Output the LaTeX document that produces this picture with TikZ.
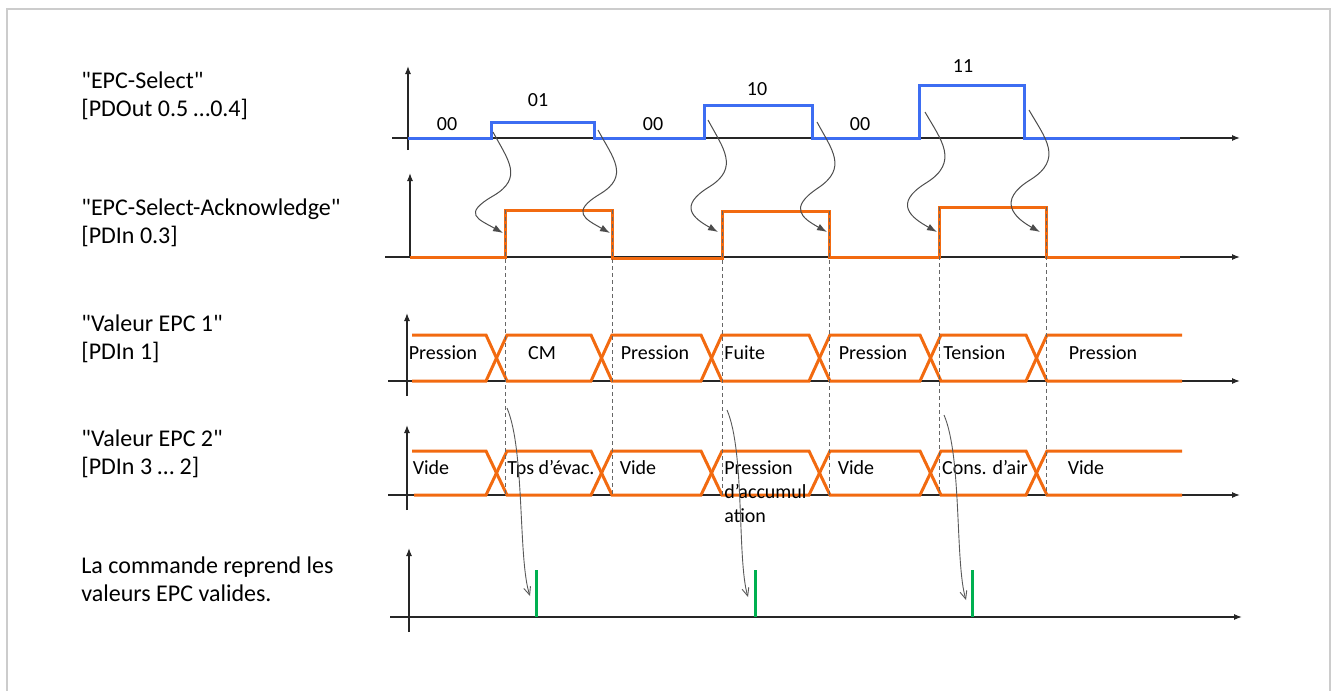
\documentclass[tikz,border=0pt]{standalone}
\usepackage{fontspec}
\setmainfont{Carlito}[Ligatures=TeXOff]
\usepackage{tikz}
\usetikzlibrary{arrows.meta}
\definecolor{sel}{HTML}{3D6DF2}
\definecolor{ack}{HTML}{F26A10}
\definecolor{ok}{HTML}{00B050}
\definecolor{rim}{HTML}{CCCCCC}

\begin{document}
\begin{tikzpicture}[x=0.5pt,y=-0.5pt,
		axe/.style={black!85,line width=0.6pt,-{Latex[length=4pt,width=3pt]}},
		sig/.style={line width=1.5pt},
		wave/.style={black!70,line width=0.5pt,-{Latex[length=5pt,width=3.5pt]}},
		pick/.style={black!65,line width=0.45pt,-{Straight Barb[length=4pt,width=3.5pt]}},
		edgeline/.style={black!60,line width=0.45pt,dash pattern=on 2pt off 1.5pt},
		titre/.style={font=\fontsize{12}{14.4}\selectfont,align=left,anchor=north west,inner sep=0pt},
		val/.style={font=\fontsize{10}{12.2}\selectfont,anchor=base,inner sep=0pt}]
		\useasboundingbox (0,0) rectangle (1334,691);
		%cadre
		\draw[rim,line width=1pt] (7,691) -- (7,9) -- (1330,9) -- (1330,691);
		
		%titres des signaux
		\node (T1) [titre] at (81,71) {"EPC-Select"\\{[PDOut 0.5 …0.4]}};
		\node (T2) [titre] at (81,198) {"EPC-Select-Acknowledge"\\{[PDIn 0.3]}};
		\node (T3) [titre] at (81,314) {"Valeur EPC 1"\\{[PDIn 1]}};
		\node (T4) [titre] at (81,429) {"Valeur EPC 2"\\{[PDIn 3 … 2]}};
		\node (T5) [titre] at (81,556) {La commande reprend les\\valeurs EPC valides.};
		
		%axes
		\draw[axe] (392,138) -- (1240,138);
		\draw[axe] (408,150) -- (408,66);
		\draw[axe] (385,257) -- (1240,257);
		\draw[axe] (410,257) -- (410,173);
		\draw[axe] (388,381) -- (1240,381);
		\draw[axe] (407,396) -- (407,313);
		\draw[axe] (388,495) -- (1240,495);
		\draw[axe] (407,510) -- (407,425);
		\draw[axe] (390,617) -- (1242,617);
		\draw[axe] (409,632) -- (409,548);
		
		%EPC-Select
		\draw[sel,sig] (408,138) -- (491,138) -- (491,122) -- (594,122) -- (594,138) -- (704,138) -- (704,105) -- (812,105) -- (812,138) -- (919,138) -- (919,85) -- (1024,85) -- (1024,138) -- (1180,138);
		\node (c1) [val] at (447,130) {00};
		\node (c2) [val] at (538,106) {01};
		\node (c3) [val] at (653,130) {00};
		\node (c4) [val] at (757,95) {10};
		\node (c5) [val] at (860,130) {00};
		\node (c6) [val] at (963,72) {11};
		
		%Acknowledge
		\draw[ack,sig] (410,257) -- (505,257) -- (505,210) -- (612,210) -- (612,258) -- (722,258) -- (722,211) -- (829,211) -- (829,257) -- (939,257) -- (939,207) -- (1046,207) -- (1046,257) -- (1180,257);
		
		%Valeur EPC 1
		\draw[ack,sig] (412,335) -- (486,335) -- (507,381) -- (591,381) -- (612,335) -- (701,335) -- (722,381) -- (809,381) -- (830,335) -- (920,335) -- (941,381) -- (1026,381) -- (1047,335) -- (1182,335);
		\draw[ack,sig] (412,381) -- (486,381) -- (507,335) -- (591,335) -- (612,381) -- (701,381) -- (722,335) -- (809,335) -- (830,381) -- (920,381) -- (941,335) -- (1026,335) -- (1047,381) -- (1182,381);
		\node (p1) [val] at (443,359) {Pression};
		\node (p2) [val] at (542,359) {CM};
		\node (p3) [val] at (655,359) {Pression};
		\node (p4) [val,anchor=base west] at (724,359) {Fuite};
		\node (p5) [val] at (873,359) {Pression};
		\node (p6) [val,anchor=base west] at (943,359) {Tension};
		\node (p7) [val] at (1103,359) {Pression};
		
		%Valeur EPC 2
		\draw[ack,sig] (412,451) -- (486,451) -- (507,495) -- (591,495) -- (612,451) -- (701,451) -- (722,495) -- (809,495) -- (830,451) -- (920,451) -- (941,495) -- (1026,495) -- (1047,451) -- (1182,451);
		\draw[ack,sig] (414,495) -- (486,495) -- (507,451) -- (591,451) -- (612,495) -- (701,495) -- (722,451) -- (809,451) -- (830,495) -- (920,495) -- (941,451) -- (1026,451) -- (1047,495) -- (1182,495);
		\node (q1) [val] at (431,474) {Vide};
		\node (q2) [val] at (551,474) {Tps d’évac.};
		\node (q3) [val] at (638,474) {Vide};
		\node (q4) [val,anchor=north west,align=left] at (724,460) {Pression\\d’accumul\\ation};
		\node (q5) [val] at (856,474) {Vide};
		\node (q6) [val] at (985,474) {Cons. d’air};
		\node (q7) [val] at (1086,474) {Vide};
		
		%fronts
		\draw[edgeline] (505,210) -- (505,495);
		\draw[edgeline] (612,210) -- (612,495);
		\draw[edgeline] (722,211) -- (722,495);
		\draw[edgeline] (829,211) -- (829,495);
		\draw[edgeline] (939,207) -- (939,495);
		\draw[edgeline] (1046,207) -- (1046,495);
		
		%commande valide
		\draw[ok,line width=1.5pt] (536,570) -- (536,617);
		\draw[ok,line width=1.5pt] (755,570) -- (755,617);
		\draw[ok,line width=1.5pt] (972,570) -- (972,617);
		
		%fleches
		\coordinate (a1) at (493,132); \coordinate (b1) at (503,233);
		\coordinate (a2) at (598,130); \coordinate (b2) at (610,233);
		\coordinate (a3) at (708,120); \coordinate (b3) at (718,232);
		\coordinate (a4) at (817,122); \coordinate (b4) at (827,232);
		\coordinate (a5) at (925,112); \coordinate (b5) at (937,232);
		\coordinate (a6) at (1029,110); \coordinate (b6) at (1040,232);
		\draw[wave] (a1) .. controls (508,160) and (524,178) .. (493,196) .. controls (462,214) and (478,219) .. (b1);
		\draw[wave] (a2) .. controls (613,158) and (630,176) .. (600,194) .. controls (570,212) and (585,219) .. (b2);
		\draw[wave] (a3) .. controls (723,148) and (740,168) .. (709,187) .. controls (678,206) and (693,218) .. (b3);
		\draw[wave] (a4) .. controls (832,150) and (848,168) .. (818,188) .. controls (788,208) and (802,218) .. (b4);
		\draw[wave] (a5) .. controls (941,140) and (960,162) .. (926,183) .. controls (892,204) and (912,218) .. (b5);
		\draw[wave] (a6) .. controls (1045,138) and (1064,159) .. (1030,180) .. controls (996,201) and (1015,218) .. (b6);
		\coordinate (d1) at (507,408); \coordinate (g1) at (530,596);
		\coordinate (d2) at (727,410); \coordinate (g2) at (748,597);
		\coordinate (d3) at (944,415); \coordinate (g3) at (966,600);
		\draw[pick] (d1) .. controls (525,450) and (518,560) .. (g1);
		\draw[pick] (d2) .. controls (745,452) and (737,560) .. (g2);
		\draw[pick] (d3) .. controls (962,457) and (955,563) .. (g3);
	\end{tikzpicture}
\end{document}
